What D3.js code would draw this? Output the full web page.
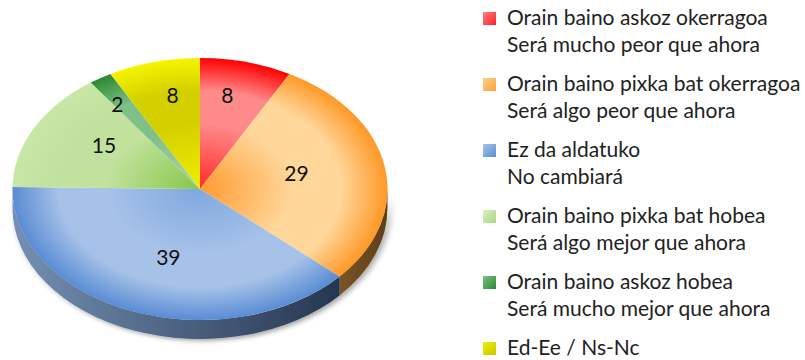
<!DOCTYPE html>
<html>
<head>
<meta charset="utf-8">
<script src="https://cdn.jsdelivr.net/npm/d3@7"></script>
<style>
  html, body { margin: 0; padding: 0; background: #fff; }
  svg { display: block; }
  text { font-family: Lato, "Liberation Sans", sans-serif; }
</style>
</head>
<body>
<svg id="chart" width="805" height="360"></svg>
<script>
// Survey answers, in the order the slices run clockwise from 12 o'clock
const namesEu = [
  "Orain baino askoz okerragoa",
  "Orain baino pixka bat okerragoa",
  "Ez da aldatuko",
  "Orain baino pixka bat hobea",
  "Orain baino askoz hobea",
  "Ed-Ee / Ns-Nc"
];
const namesEs = [
  "Será mucho peor que ahora",
  "Será algo peor que ahora",
  "No cambiará",
  "Será algo mejor que ahora",
  "Será mucho mejor que ahora",
  ""
];
const values = [8, 29, 39, 15, 2, 8];

// Shading for each slice: [centre, middle ring, rim]
const shades = [
  ["#ff2a2a", "#ff8a8a", "#ff0000"],
  ["#ff9a30", "#ffd79b", "#ff9826"],
  ["#80a8de", "#a6c2e8", "#5a8cd4"],
  ["#86c64a", "#c0e29c", "#c8e7a6"],
  ["#a8d4a8", "#7fbf88", "#2a8a32"],
  ["#eeee00", "#d4d000", "#f6f400"]
];
const wallColors = [null, ["#7a5426", "#5e3e18"], ["#7590b4", "#263650"], null, null, null];
const legendColors = [
  ["#ff8080", "#ff2020"],
  ["#ffd090", "#ffa030"],
  ["#a8c4ea", "#5a8cd4"],
  ["#d8f0c0", "#a8d880"],
  ["#7fbf88", "#2a8a32"],
  ["#f0f000", "#c8c400"]
];

const svg = d3.select("#chart");
const defs = svg.append("defs");

// Ellipse geometry of the tilted pie
const cx = 200, cy = 189, rx = 187.5, ry = 131, depth = 19;
const R = 100;                       // unit radius inside the scaled group
const sy = ry / R, sx = rx / R;

const pie = d3.pie().sort(null).value(d => d).startAngle(0).endAngle(2 * Math.PI);
const arcs = pie(values);
const arcGen = d3.arc().innerRadius(0).outerRadius(R);

// Radial shading per slice (circular in the unscaled space = elliptical on screen)
shades.forEach((s, i) => {
  const g = defs.append("radialGradient")
    .attr("id", "slice" + i)
    .attr("gradientUnits", "userSpaceOnUse")
    .attr("cx", 0).attr("cy", 0).attr("r", R);
  g.append("stop").attr("offset", "0").attr("stop-color", s[0]);
  g.append("stop").attr("offset", "0.5").attr("stop-color", s[1]);
  g.append("stop").attr("offset", "0.75").attr("stop-color", s[1]);
  g.append("stop").attr("offset", "1").attr("stop-color", s[2]);
});
wallColors.forEach((c, i) => {
  if (!c) return;
  const g = defs.append("linearGradient").attr("id", "wall" + i)
    .attr("x1", 0).attr("x2", 1).attr("y1", 0).attr("y2", 0);
  g.append("stop").attr("offset", "0").attr("stop-color", c[0]);
  g.append("stop").attr("offset", "1").attr("stop-color", c[1]);
});
legendColors.forEach((c, i) => {
  const g = defs.append("linearGradient").attr("id", "key" + i)
    .attr("x1", 0).attr("x2", 1).attr("y1", 0).attr("y2", 1);
  g.append("stop").attr("offset", "0").attr("stop-color", c[0]);
  g.append("stop").attr("offset", "1").attr("stop-color", c[1]);
});
const shadow = defs.append("filter").attr("id", "shadow")
  .attr("x", "-10%").attr("y", "-10%").attr("width", "130%").attr("height", "140%");
shadow.append("feDropShadow").attr("dx", 1.5).attr("dy", 1.5)
  .attr("stdDeviation", 1.6).attr("flood-color", "#000").attr("flood-opacity", 0.35);

const pieG = svg.append("g")
  .attr("transform", `translate(${cx},${cy}) scale(${sx},${sy})`);

// Front wall: only the part of the rim facing the viewer (angles 90°..270°)
const dz = depth / sy;
const walls = pieG.append("g").attr("filter", "url(#shadow)");
arcs.forEach((a, i) => {
  const a0 = Math.max(a.startAngle, Math.PI / 2);
  const a1 = Math.min(a.endAngle, 3 * Math.PI / 2);
  if (a1 <= a0) return;
  const p = d3.path();
  p.moveTo(R * Math.sin(a0), -R * Math.cos(a0));
  p.arc(0, 0, R, a0 - Math.PI / 2, a1 - Math.PI / 2, false);
  p.lineTo(R * Math.sin(a1), -R * Math.cos(a1) + dz);
  p.arc(0, dz, R, a1 - Math.PI / 2, a0 - Math.PI / 2, true);
  p.closePath();
  walls.append("path").attr("d", p.toString())
    .attr("fill", wallColors[i] ? `url(#wall${i})` : shades[i][2]);
});

// Top faces
pieG.selectAll("path.slice").data(arcs).join("path")
  .attr("class", "slice")
  .attr("d", arcGen)
  .attr("fill", (d, i) => `url(#slice${i})`);

// Value labels near each slice's centroid; thin slices get pushed toward the rim
const labelsG = svg.append("g");
arcs.forEach((a, i) => {
  const mid = (a.startAngle + a.endAngle) / 2;
  const half = (a.endAngle - a.startAngle) / 2;
  const share = half / Math.PI;
  const c = (2 / 3) * Math.sin(half) / half;
  const fx = share < 0.05 ? 0.83 : 0.9 * c;
  const fy = share < 0.05 ? 0.75 : 1.1 * c;
  const x = cx + fx * rx * Math.sin(mid);
  const y = cy - fy * ry * Math.cos(mid) - 2;
  labelsG.append("text")
    .attr("x", x).attr("y", y)
    .attr("text-anchor", "middle").attr("dominant-baseline", "central")
    .attr("font-size", 21).attr("fill", "#111")
    .text(values[i]);
});

// Legend
const rowY = d3.scalePoint().domain(d3.range(values.length)).range([25, 355]);
const legend = svg.append("g");
namesEu.forEach((n, i) => {
  const y = rowY(i);
  legend.append("rect")
    .attr("x", 483).attr("y", y - 13).attr("width", 13).attr("height", 13)
    .attr("fill", `url(#key${i})`);
  legend.append("text").attr("x", 507).attr("y", y)
    .attr("font-size", 21).attr("fill", "#222").text(n);
  if (namesEs[i]) {
    legend.append("text").attr("x", 507).attr("y", y + 27)
      .attr("font-size", 21).attr("fill", "#222").text(namesEs[i]);
  }
});
</script>
</body>
</html>
